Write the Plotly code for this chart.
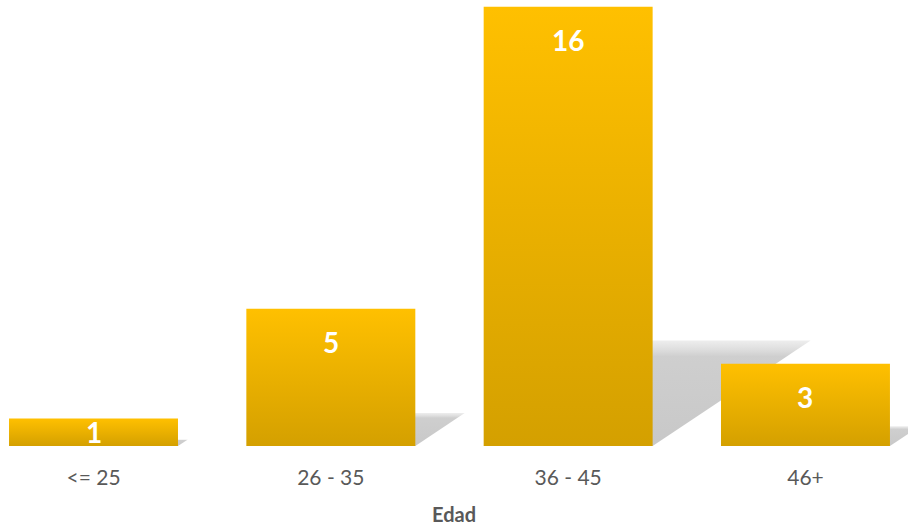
import plotly.graph_objects as go

categories = ["<= 25", "26 - 35", "36 - 45", "46+"]
values = [1, 5, 16, 3]
axis_title = "Edad"

BAR_W = 0.712
TOP_COLOR = "#FFC000"
BOT_COLOR = "#D4A000"
SH_DY = 0.24      # shadow height fraction of bar height
SH_DX = 0.0416    # shadow x shift per value unit
PX_PER_UNIT = 446 / 16.25

fig = go.Figure()

# shadows (behind bars)
for i, v in enumerate(values):
    x0, x1 = i - BAR_W / 2, i + BAR_W / 2
    sx = v * SH_DX
    sy = v * SH_DY
    fig.add_trace(go.Scatter(
        x=[x0, x1, x1 + sx, x0 + sx, x0],
        y=[0, 0, sy, sy, 0],
        mode="lines", line=dict(width=0), fill="toself",
        fillgradient=dict(type="vertical",
                          colorscale=[[0, "rgba(200,200,200,1)"], [0.85, "rgba(204,204,204,0.95)"],
                                      [1, "rgba(225,225,225,0.6)"]]),
        hoverinfo="skip", showlegend=False))

# bars with vertical gradient
for i, v in enumerate(values):
    x0, x1 = i - BAR_W / 2, i + BAR_W / 2
    fig.add_trace(go.Scatter(
        x=[x0, x1, x1, x0, x0],
        y=[0, 0, v, v, 0],
        mode="lines", line=dict(width=0), fill="toself",
        fillgradient=dict(type="vertical",
                          colorscale=[[0, BOT_COLOR], [1, TOP_COLOR]]),
        name=categories[i], showlegend=False))

# data labels
for i, v in enumerate(values):
    bar_px = v * PX_PER_UNIT
    shift = -min(33, bar_px / 2)
    fig.add_annotation(x=i, y=v, yshift=shift, text=str(v), showarrow=False,
                       font=dict(family="Lato", size=28, color="white", weight="bold"),
                       xanchor="center", yanchor="middle")

fig.update_layout(
    width=908, height=527,
    margin=dict(l=0, r=0, t=0, b=81),
    paper_bgcolor="white", plot_bgcolor="white",
    showlegend=False,
    xaxis=dict(range=[-0.394, 3.432], tickvals=list(range(len(categories))), ticktext=categories,
               showgrid=False, zeroline=False, showline=False, ticks="",
               tickfont=dict(family="Lato", size=21, color="#595959"),
               ticklabelstandoff=17,
               title=dict(text=axis_title, standoff=19,
                          font=dict(family="Lato", size=20, color="#595959", weight="bold")),
               fixedrange=True),
    yaxis=dict(range=[0, 16.25], visible=False, fixedrange=True),
)

fig.write_html("out.html")
